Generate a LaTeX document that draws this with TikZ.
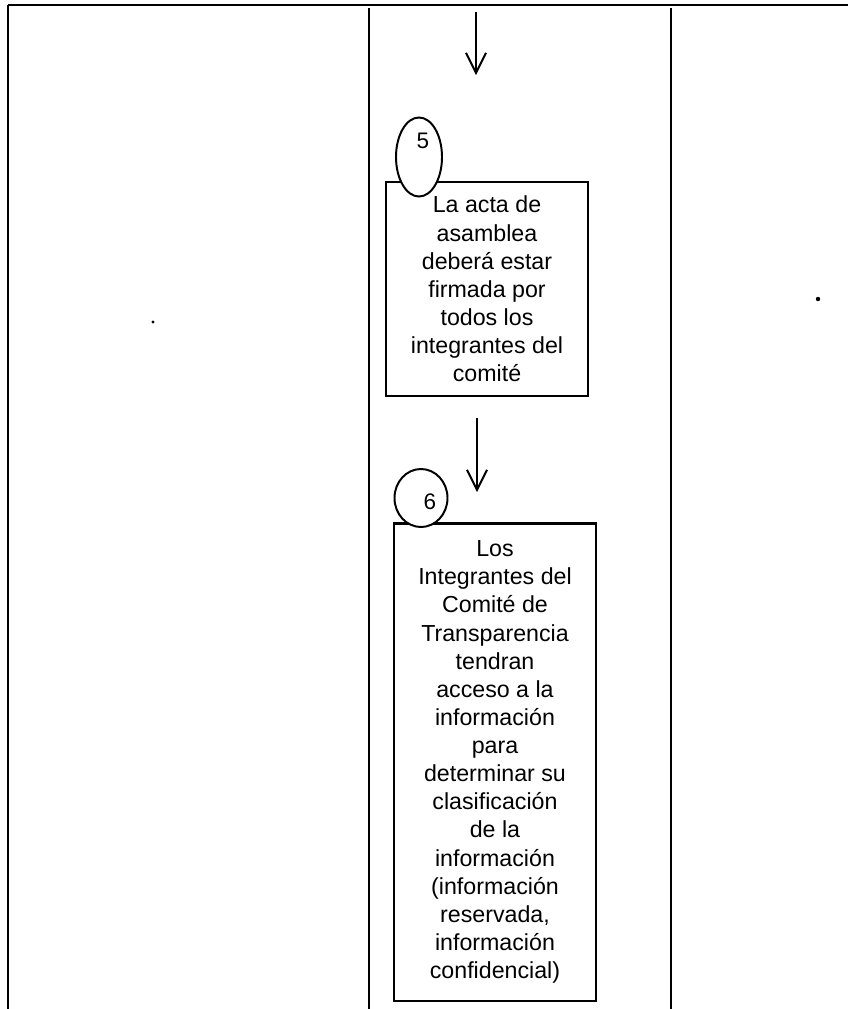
\documentclass[tikz,border=0pt]{standalone}
\usepackage{fontspec}
\setmainfont{Liberation Sans}
\usetikzlibrary{shapes.geometric,arrows.meta,positioning}

\begin{document}
\begin{tikzpicture}[
    x=0.025cm, y=-0.025cm,
    lane/.style={line width=1.1pt},
    stepbox/.style={rectangle, draw, line width=1.5pt, minimum width=5.05cm,
                    align=center, inner sep=0pt, font=\fontsize{16.5}{20}\selectfont},
    stepmark/.style={ellipse, draw, fill=white, line width=1.4pt, inner sep=0pt},
    stepnum/.style={inner sep=0pt, font=\fontsize{16}{18}\selectfont},
    arrow/.style={-{Straight Barb[length=0.5cm, width=0.5cm]}, line width=1.4pt}
]
\useasboundingbox (0,0) rectangle (848,1009);

% Lane frame
\coordinate (topL) at (8,5);
\coordinate (topR) at (848,5);
\coordinate (botL) at (8,1009);
\coordinate (midT) at (369,8);
\coordinate (midB) at (369,1009);
\coordinate (rgtT) at (671,8);
\coordinate (rgtB) at (671,1009);
\draw[lane] (topL) -- (topR);
\draw[lane] (topL) -- (botL);
\draw[lane] (midT) -- (midB);
\draw[lane] (rgtT) -- (rgtB);

% Step 5
\node[stepbox, minimum height=5.35cm] (box5) at (487,289)
     {La acta de\\asamblea\\deberá estar\\firmada por\\todos los\\integrantes del\\comité};
\node[stepmark, minimum width=1.15cm, minimum height=1.975cm] (mark5) at (419,157) {};
\node[stepnum] (num5) at (423,141) {5};

% Step 6
\node[stepbox, minimum height=11.925cm] (box6) at (495,762)
     {Los\\Integrantes del\\Comité de\\Transparencia\\tendran\\acceso a la\\información\\para\\determinar su\\clasificación\\de la\\información\\(información\\reservada,\\información\\confidencial)};
\node[stepmark, minimum width=1.325cm, minimum height=1.45cm] (mark6) at (421,498) {};
\node[stepnum] (num6) at (430,502) {6};

% Flow arrows
\coordinate (in5) at (476,12);
\coordinate (to5) at (476,75);
\coordinate (out5) at (477,418);
\coordinate (to6) at (477,492);
\draw[arrow] (in5) -- (to5);
\draw[arrow] (out5) -- (to6);

% Stray marks
\fill (818,299) circle (2.2);
\fill (153,322) circle (1.6);

\end{tikzpicture}
\end{document}
